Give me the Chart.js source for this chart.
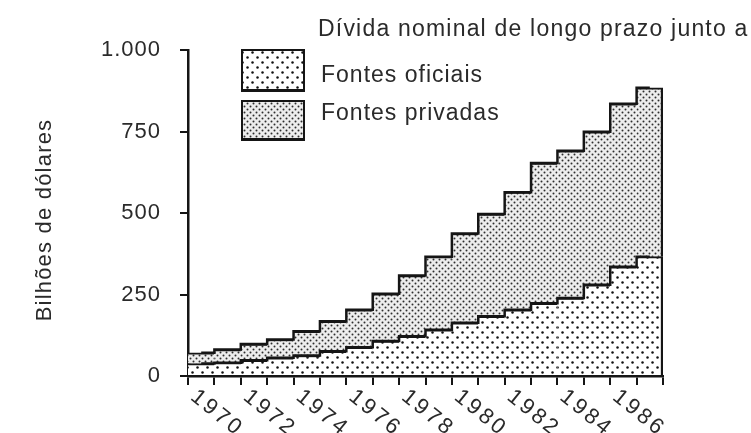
<!DOCTYPE html>
<html>
<head>
<meta charset="utf-8">
<script src="https://cdn.jsdelivr.net/npm/chart.js@4.4.1/dist/chart.umd.min.js"></script>
<style>
  html, body { margin: 0; padding: 0; background: #fff; }
  #wrap { width: 751px; height: 433px; }
</style>
</head>
<body>
<div id="wrap"><canvas id="c" width="751" height="433"></canvas></div>
<script>
// ---- data ----
const categories = ['1970','1971','1972','1973','1974','1975','1976','1977','1978','1979','1980','1981','1982','1983','1984','1985','1986','1987'];
const oficiais = [38, 41, 48, 56, 63, 76, 88, 107, 122, 142, 163, 183, 203, 223, 239, 280, 335, 366];
const privadas = [33, 40, 50, 56, 74, 92, 115, 145, 186, 224, 274, 314, 361, 430, 452, 469, 500, 518];
const xTickLabels = ['1970','1972','1974','1976','1978','1980','1982','1984','1986'];
const yTickLabels = ['0','250','500','750','1.000'];
const seriesNames = ['Fontes oficiais', 'Fontes privadas'];
const titleText = 'Dívida nominal de longo prazo junto a';
const yTitle = 'Bilhões de dólares';

const totals = oficiais.map((v, i) => v + privadas[i]);
const FONT = '"Liberation Sans", Arial, sans-serif';
const TXT = '#2a2a2a';
const INK = '#151515';

function makePattern(size, dots, r, color, bg) {
  const c = document.createElement('canvas');
  c.width = size[0]; c.height = size[1];
  const g = c.getContext('2d');
  g.fillStyle = bg; g.fillRect(0, 0, c.width, c.height);
  g.fillStyle = color;
  dots.forEach(d => { g.beginPath(); g.arc(d[0], d[1], r, 0, Math.PI * 2); g.fill(); });
  return g.createPattern(c, 'repeat');
}
const patOf = makePattern([10, 10], [[2.5, 2.5], [7.5, 7.5]], 1.25, '#111', '#ffffff');
const patPr = makePattern([6, 6], [[1.5, 1.5], [4.5, 4.5]], 1.0, '#2e2e2e', '#ededed');

const last = categories.length - 1;
const bw = (ctx) => ({ top: 2, left: 0, bottom: 0, right: ctx.dataIndex === last ? 2.5 : 0 });

const customPlugin = {
  id: 'custom',
  beforeDraw(chart) {
    const ctx = chart.ctx;
    ctx.save();
    ctx.fillStyle = '#fff';
    ctx.fillRect(0, 0, chart.width, chart.height);
    ctx.restore();
    ctx.letterSpacing = '1px';
  },
  afterDraw(chart) {
    const ctx = chart.ctx;
    const xs = chart.scales.x;
    // x labels (rotated clockwise)
    ctx.save();
    ctx.font = '22px ' + FONT;
    ctx.fillStyle = TXT;
    ctx.letterSpacing = '3px';
    ctx.textAlign = 'left';
    ctx.textBaseline = 'middle';
    xTickLabels.forEach(lab => {
      const i = categories.indexOf(lab);
      const px = xs.getPixelForValue(i);
      ctx.save();
      ctx.translate(px - 8, 394);
      ctx.rotate(39 * Math.PI / 180);
      ctx.fillText(lab, 0, 0);
      ctx.restore();
    });
    ctx.restore();

    // title
    ctx.save();
    ctx.font = '23px ' + FONT;
    ctx.letterSpacing = '1.2px';
    ctx.fillStyle = TXT;
    ctx.textAlign = 'left';
    ctx.textBaseline = 'alphabetic';
    ctx.fillText(titleText, 318, 36);
    ctx.restore();

    // y title
    ctx.save();
    ctx.font = '22px ' + FONT;
    ctx.letterSpacing = '1.2px';
    ctx.fillStyle = TXT;
    ctx.translate(45, 220);
    ctx.rotate(-Math.PI / 2);
    ctx.textAlign = 'center';
    ctx.textBaseline = 'middle';
    ctx.fillText(yTitle, 0, 0);
    ctx.restore();

    // legend
    const boxes = [
      { y: 49, h: 43, pat: patOf, ty: 82 },
      { y: 100, h: 41, pat: patPr, ty: 120 }
    ];
    boxes.forEach((b, k) => {
      ctx.save();
      ctx.fillStyle = b.pat;
      ctx.fillRect(241, b.y, 64, b.h);
      ctx.strokeStyle = INK;
      ctx.lineWidth = 2;
      ctx.strokeRect(242, b.y + 1, 62, b.h - 2);
      ctx.fillStyle = INK;
      ctx.fillRect(241, b.y + b.h - 3, 64, 3);
      ctx.font = '23px ' + FONT;
      ctx.letterSpacing = '1px';
      ctx.fillStyle = TXT;
      ctx.textAlign = 'left';
      ctx.textBaseline = 'alphabetic';
      ctx.fillText(seriesNames[k], 321, b.ty);
      ctx.restore();
    });
  }
};

new Chart(document.getElementById('c'), {
  data: {
    labels: categories,
    datasets: [
      { type: 'bar', label: seriesNames[0], data: oficiais, backgroundColor: patOf, borderColor: INK, borderWidth: bw, borderSkipped: false, barPercentage: 1, categoryPercentage: 1, stack: 's', order: 2 },
      { type: 'bar', label: seriesNames[1], data: privadas, backgroundColor: patPr, borderColor: INK, borderWidth: bw, borderSkipped: false, barPercentage: 1, categoryPercentage: 1, stack: 's', order: 2 },
      { type: 'line', label: 'edge1', data: oficiais, stepped: 'middle', borderColor: INK, borderWidth: 2.5, pointRadius: 0, fill: false, stack: 'l1', order: 0 },
      { type: 'line', label: 'edge2', data: totals, stepped: 'middle', borderColor: INK, borderWidth: 2.5, pointRadius: 0, fill: false, stack: 'l2', order: 0 }
    ]
  },
  options: {
    responsive: false,
    animation: false,
    devicePixelRatio: 1,
    layout: { padding: { left: 0, top: 50, right: 88, bottom: 0 } },
    plugins: { legend: { display: false }, title: { display: false }, tooltip: { enabled: false } },
    scales: {
      x: {
        type: 'category',
        stacked: true,
        offset: true,
        grid: { display: true, drawOnChartArea: false, drawTicks: true, tickLength: 9, color: INK, lineWidth: 2, offset: true },
        border: { display: true, color: INK, width: 2.5 },
        ticks: { display: false },
        afterFit: (s) => { s.height = 57; }
      },
      y: {
        stacked: true,
        min: 0, max: 1000,
        grid: { display: true, drawOnChartArea: false, drawTicks: true, tickLength: 8, color: INK, lineWidth: 2 },
        border: { display: true, color: INK, width: 2.5 },
        ticks: {
          stepSize: 250,
          padding: 19,
          color: TXT,
          font: { family: FONT, size: 22 },
          callback: (v, i) => yTickLabels[i]
        },
        afterFit: (s) => { s.width = 188; }
      }
    }
  },
  plugins: [customPlugin]
});
</script>
</body>
</html>
